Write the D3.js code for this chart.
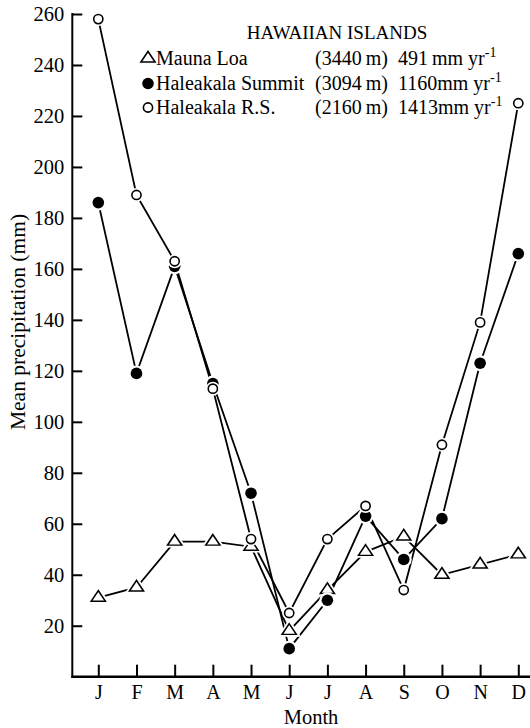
<!DOCTYPE html>
<html>
<head>
<meta charset="utf-8">
<script src="https://cdn.jsdelivr.net/npm/d3@7/dist/d3.min.js"></script>
<style>
  body { margin: 0; background: #fff; }
  svg text { font-family: "Liberation Serif", "Times New Roman", serif; fill: #000; }
</style>
</head>
<body>
<div id="chart"></div>
<script>
var width = 530;
var height = 728;

// months along the x axis
var months = ["J", "F", "M", "A", "M", "J", "J", "A", "S", "O", "N", "D"];

// mean monthly precipitation (mm)
var maunaLoa = [31, 35, 53, 53, 51, 18, 34, 49, 55, 40, 44, 48];
var summit = [186, 119, 161, 115, 72, 11, 30, 63, 46, 62, 123, 166];
var rangerStation = [258, 189, 163, 113, 54, 25, 54, 67, 34, 91, 139, 225];

var yTicks = [20, 40, 60, 80, 100, 120, 140, 160, 180, 200, 220, 240, 260];

// legend
var stationNames = ["Mauna Loa", "Haleakala Summit", "Haleakala R.S."];
var elevations = ["(3440\u2009m)", "(3094\u2009m)", "(2160\u2009m)"];
var annualTotals = ["491\u2009mm yr", "1160mm yr", "1413mm yr"];

var svg = d3.select("#chart")
  .append("svg")
  .attr("width", width)
  .attr("height", height);

var x = d3.scalePoint()
  .domain(d3.range(months.length))
  .range([98.3, 518.3]);

var y = d3.scaleLinear()
  .domain([0, 260])
  .range([676.7, 14]);

var axisLeftX = 72.3;

// y axis, ticks pointing inward
var yAxis = svg.append("g")
  .attr("transform", "translate(" + axisLeftX + ",0)")
  .call(d3.axisLeft(y).tickValues(yTicks).tickSize(-10).tickSizeOuter(0).tickPadding(8));
yAxis.select(".domain").remove();
yAxis.selectAll("line").attr("stroke", "#000").attr("stroke-width", 2);
yAxis.selectAll("text").style("font-size", "20.5px").attr("font-family", null);

svg.append("line")
  .attr("x1", axisLeftX).attr("x2", axisLeftX)
  .attr("y1", y(260) - 1).attr("y2", y(0) + 1)
  .attr("stroke", "#000").attr("stroke-width", 2);

// x axis
var xAxis = svg.append("g")
  .attr("transform", "translate(0," + y(0) + ")")
  .call(d3.axisBottom(x).tickSize(-12).tickSizeOuter(0).tickPadding(8)
    .tickFormat(function(i) { return months[i]; }));
xAxis.select(".domain").remove();
xAxis.selectAll("line").attr("stroke", "#000").attr("stroke-width", 2);
xAxis.selectAll("text").style("font-size", "20px").attr("font-family", null);

svg.append("line")
  .attr("x1", axisLeftX - 1).attr("x2", width)
  .attr("y1", y(0)).attr("y2", y(0))
  .attr("stroke", "#000").attr("stroke-width", 2.5);

// axis titles
svg.append("text")
  .attr("x", 311)
  .attr("y", 724)
  .attr("text-anchor", "middle")
  .style("font-size", "20.5px")
  .text("Month");

svg.append("text")
  .attr("transform", "translate(25,322) rotate(-90)")
  .attr("text-anchor", "middle")
  .style("font-size", "21.5px")
  .text("Mean precipitation (mm)");

var series = [
  { id: "mauna", values: maunaLoa, marker: "triangle" },
  { id: "summit", values: summit, marker: "filled" },
  { id: "rs", values: rangerStation, marker: "open" }
];

var line = d3.line()
  .x(function(d, i) { return x(i); })
  .y(function(d) { return y(d); });

svg.append("g")
  .selectAll("path")
  .data(series)
  .enter()
  .append("path")
  .attr("d", function(d) { return line(d.values); })
  .attr("fill", "none")
  .attr("stroke", "#000")
  .attr("stroke-width", 1.8);

var triangle = d3.symbol().type(d3.symbolTriangle).size(72);

function drawMarker(g, kind, cx, cy) {
  if (kind === "triangle") {
    g.append("path")
      .attr("d", triangle())
      .attr("transform", "translate(" + cx + "," + cy + ") scale(1.1,0.95)")
      .attr("fill", "#fff").attr("stroke", "#fff").attr("stroke-width", 5);
    g.append("path")
      .attr("d", triangle())
      .attr("transform", "translate(" + cx + "," + cy + ") scale(1.1,0.95)")
      .attr("fill", "#fff").attr("stroke", "#000").attr("stroke-width", 1.5);
  } else if (kind === "filled") {
    g.append("circle").attr("cx", cx).attr("cy", cy).attr("r", 8).attr("fill", "#fff");
    g.append("circle").attr("cx", cx).attr("cy", cy).attr("r", 5.8).attr("fill", "#000");
  } else {
    g.append("circle").attr("cx", cx).attr("cy", cy).attr("r", 7).attr("fill", "#fff");
    g.append("circle").attr("cx", cx).attr("cy", cy).attr("r", 4.6)
      .attr("fill", "#fff").attr("stroke", "#000").attr("stroke-width", 1.6);
  }
}

var markers = svg.append("g");
series.forEach(function(s) {
  s.values.forEach(function(v, i) {
    drawMarker(markers, s.marker, x(i), y(v));
  });
});

// legend
var legend = svg.append("g");
legend.append("text")
  .attr("x", 337)
  .attr("y", 39)
  .attr("text-anchor", "middle")
  .style("font-size", "19px")
  .text("HAWAIIAN ISLANDS");

var rowY = [65, 90, 114];
var kinds = ["triangle", "filled", "open"];

stationNames.forEach(function(name, i) {
  drawMarker(legend, kinds[i], 148, rowY[i] - 6.5);
  legend.append("text")
    .attr("x", 156)
    .attr("y", rowY[i])
    .style("font-size", "20px")
    .text(name);
  legend.append("text")
    .attr("x", 315)
    .attr("y", rowY[i])
    .style("font-size", "20px")
    .text(elevations[i]);
  var t = legend.append("text")
    .attr("x", 398)
    .attr("y", rowY[i])
    .style("font-size", "20px");
  t.append("tspan").text(annualTotals[i]);
  t.append("tspan")
    .attr("dy", -8)
    .style("font-size", "14px")
    .text("-1");
});
</script>
</body>
</html>
